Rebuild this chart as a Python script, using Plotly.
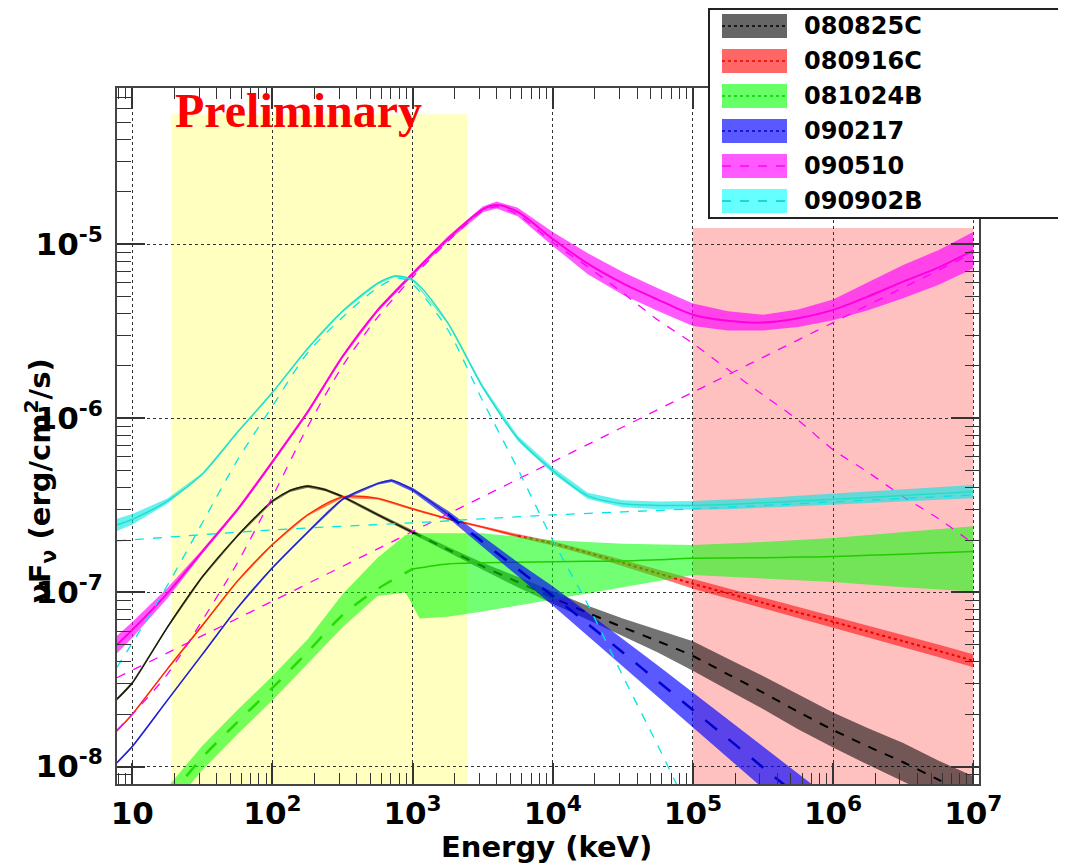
import plotly.graph_objects as go

# ---------------- data (log10 E [keV], log10 nuFnu [erg/cm2/s]) ----------------
GRB_NAMES = ["080825C", "080916C", "081024B", "090217", "090510", "090902B"]

LOGE_STD = [0.89, 1.0, 1.25, 1.5, 1.75, 2.0, 2.25, 2.5, 2.75, 3.0, 3.25, 3.5, 3.75,
            4.0, 4.25, 4.5, 4.75, 5.0, 5.25, 5.5, 5.75, 6.0, 6.25, 6.5, 6.75, 7.0]

# 080825C (black)
LOGE_080825C = [0.89, 1.0, 1.25, 1.5, 1.75, 2.0, 2.125, 2.25, 2.375, 2.5, 2.75, 3.0, 3.25, 3.5,
                3.75, 4.0, 4.25, 4.5, 4.75, 5.0, 5.25, 5.5, 5.75, 6.0, 6.25, 6.5, 6.75, 7.0]
F_080825C = [-7.613, -7.52, -7.20, -6.91, -6.675, -6.475, -6.415, -6.39, -6.41, -6.45, -6.553,
             -6.655, -6.753, -6.85, -6.94, -7.03, -7.117, -7.20, -7.28, -7.365, -7.47, -7.575,
             -7.685, -7.79, -7.885, -7.975, -8.075, -8.17]
W_080825C = [0.008, 0.008, 0.008, 0.008, 0.008, 0.008, 0.008, 0.008, 0.008, 0.008, 0.01, 0.012,
             0.015, 0.02, 0.03, 0.035, 0.04, 0.05, 0.065, 0.085, 0.09, 0.095, 0.1, 0.1, 0.105,
             0.11, 0.11, 0.115]

# 080916C (red)
F_080916C = [-7.795, -7.70, -7.44, -7.19, -6.935, -6.725, -6.555, -6.452, -6.46, -6.52, -6.577,
             -6.625, -6.675, -6.718, -6.772, -6.83, -6.89, -6.95, -7.005, -7.06, -7.115, -7.168,
             -7.225, -7.28, -7.335, -7.392]
W_080916C = [0.006, 0.006, 0.006, 0.006, 0.006, 0.006, 0.006, 0.006, 0.006, 0.006, 0.006, 0.006,
             0.01, 0.012, 0.015, 0.018, 0.022, 0.028, 0.029, 0.03, 0.032, 0.034, 0.035, 0.036,
             0.036, 0.037]

# 081024B (green)
LOGE_081024B = [1.25, 1.5, 1.75, 2.0, 2.25, 2.5, 2.75, 3.0, 3.25, 3.5, 3.75, 4.0, 4.25, 4.5,
                4.75, 5.0, 5.25, 5.5, 5.75, 6.0, 6.25, 6.5, 6.75, 7.0]
F_081024B = [-8.19, -7.947, -7.745, -7.548, -7.343, -7.13, -6.98, -6.865, -6.836, -6.83, -6.826,
             -6.823, -6.821, -6.819, -6.812, -6.804, -6.802, -6.80, -6.797, -6.794, -6.787,
             -6.78, -6.772, -6.765]
LOGE_081024B_BAND = [1.25, 1.5, 1.75, 2.0, 2.25, 2.5, 2.75, 2.95, 3.05, 3.25, 3.5, 4.0, 4.5,
                     5.0, 5.5, 6.0, 6.5, 7.0]
UP_081024B = [-8.12, -7.88, -7.675, -7.48, -7.27, -7.01, -6.80, -6.67, -6.66, -6.66, -6.66,
              -6.70, -6.72, -6.727, -6.71, -6.687, -6.655, -6.62]
LO_081024B = [-8.26, -8.02, -7.815, -7.62, -7.41, -7.20, -7.02, -7.00, -7.15, -7.14, -7.11,
              -7.04, -6.97, -6.90, -6.92, -6.94, -6.97, -6.995]

# 090217 (blue)
LOGE_090217 = [0.89, 1.0, 1.25, 1.5, 1.75, 2.0, 2.25, 2.5, 2.75, 2.85, 3.0, 3.25, 3.5, 3.75,
               4.0, 4.25, 4.5, 4.75, 5.0, 5.25, 5.5, 5.75, 6.0]
F_090217 = [-7.978, -7.885, -7.62, -7.356, -7.089, -6.858, -6.655, -6.465, -6.375, -6.357,
            -6.41, -6.55, -6.71, -6.866, -7.02, -7.18, -7.345, -7.51, -7.675, -7.84, -8.005,
            -8.17, -8.335]
W_090217 = [0.006, 0.006, 0.006, 0.006, 0.006, 0.006, 0.006, 0.006, 0.006, 0.008, 0.012, 0.02,
            0.03, 0.04, 0.055, 0.065, 0.075, 0.09, 0.10, 0.11, 0.12, 0.13, 0.14]

# 090510 (magenta): total, Band component, power-law component
LOGE_090510 = [0.89, 1.0, 1.25, 1.5, 1.75, 2.0, 2.25, 2.5, 2.75, 3.0, 3.25, 3.5, 3.6, 3.75,
               4.0, 4.25, 4.5, 4.75, 5.0, 5.25, 5.5, 5.75, 6.0, 6.25, 6.5, 6.75, 7.0]
F_090510 = [-7.30, -7.215, -7.005, -6.765, -6.525, -6.25, -5.965, -5.645, -5.38, -5.17, -4.97,
            -4.80, -4.775, -4.815, -4.97, -5.112, -5.225, -5.318, -5.405, -5.44, -5.45, -5.425,
            -5.377, -5.30, -5.215, -5.135, -5.035]
W_090510 = [0.05, 0.045, 0.03, 0.012, 0.01, 0.01, 0.01, 0.01, 0.01, 0.012, 0.014, 0.016, 0.02,
            0.025, 0.04, 0.06, 0.065, 0.065, 0.065, 0.055, 0.045, 0.05, 0.06, 0.08, 0.095,
            0.10, 0.105]
BAND_090510 = [-7.79, -7.70, -7.47, -7.16, -6.83, -6.45, -6.05, -5.70, -5.42, -5.19, -4.985,
               -4.81, -4.785, -4.83, -4.99, -5.13, -5.28, -5.435, -5.57, -5.72, -5.865, -6.01,
               -6.18, -6.31, -6.45, -6.575, -6.72]
LOGE_090510_PL = [0.89, 2.0, 3.0, 4.0, 5.0, 6.0, 7.0]
PL_090510 = [-7.49, -7.05, -6.65, -6.25, -5.85, -5.45, -5.05]

# 090902B (cyan): total, Band component, power-law component
LOGE_090902B = [0.89, 1.0, 1.25, 1.5, 1.75, 2.0, 2.25, 2.5, 2.75, 2.875, 3.0, 3.25, 3.5, 3.75,
                4.0, 4.25, 4.5, 4.75, 5.0, 5.25, 5.5, 5.75, 6.0, 6.25, 6.5, 6.75, 7.0]
F_090902B = [-6.612, -6.58, -6.475, -6.32, -6.08, -5.852, -5.60, -5.385, -5.225, -5.183, -5.205,
             -5.45, -5.82, -6.115, -6.30, -6.445, -6.49, -6.50, -6.50, -6.495, -6.485, -6.475,
             -6.465, -6.455, -6.443, -6.432, -6.421]
W_090902B = [0.035, 0.03, 0.015, 0.006, 0.006, 0.006, 0.006, 0.006, 0.006, 0.006, 0.006, 0.006,
             0.012, 0.015, 0.017, 0.018, 0.02, 0.022, 0.025, 0.027, 0.028, 0.03, 0.032, 0.034,
             0.035, 0.037, 0.038]
LOGE_090902B_BAND = [0.89, 1.0, 1.25, 1.5, 1.75, 2.0, 2.25, 2.5, 2.75, 2.9, 3.0, 3.25, 3.5,
                     3.75, 4.0, 4.25, 4.5, 4.75, 4.9]
BAND_090902B = [-7.43, -7.29, -6.96, -6.60, -6.24, -5.93, -5.625, -5.42, -5.25, -5.195, -5.23,
                -5.49, -5.90, -6.29, -6.70, -7.07, -7.48, -7.88, -8.13]
LOGE_090902B_PL = [0.89, 2.0, 3.0, 4.0, 5.0, 6.0, 7.0]
PL_090902B = [-6.704, -6.641, -6.60, -6.555, -6.52, -6.48, -6.44]

# Instrument energy ranges (keV) and box tops (erg/cm2/s)
GBM_RANGE = [19.0, 2450.0]
GBM_TOP = 5.58e-5
LAT_RANGE = [1.0e5, 1.0e7]
LAT_TOP = 1.24e-5

X_TICKS = [10, 1e2, 1e3, 1e4, 1e5, 1e6, 1e7]
X_TICKTEXT = ["10", "10<sup>2</sup>", "10<sup>3</sup>", "10<sup>4</sup>", "10<sup>5</sup>",
              "10<sup>6</sup>", "10<sup>7</sup>"]
Y_TICKS = [1e-8, 1e-7, 1e-6, 1e-5]
Y_TICKTEXT = ["10<sup>-8</sup>", "10<sup>-7</sup>", "10<sup>-6</sup>", "10<sup>-5</sup>"]

# ---------------- helpers ----------------
def p10(vals):
    return [10 ** v for v in vals]


fig = go.Figure()


def add_band(le, up, lo, fillcolor):
    fig.add_trace(go.Scatter(
        x=p10(le) + p10(le[::-1]), y=p10(up) + p10(lo[::-1]),
        fill="toself", fillcolor=fillcolor, line=dict(width=0), mode="lines",
        hoverinfo="skip", showlegend=False))


def add_line(le, f, color, width, dash="solid"):
    fig.add_trace(go.Scatter(
        x=p10(le), y=p10(f), mode="lines",
        line=dict(color=color, width=width, dash=dash, shape="spline", smoothing=0.8),
        hoverinfo="skip", showlegend=False))


def split(le, f, at):
    a = [(e, v) for e, v in zip(le, f) if e <= at]
    b = [(e, v) for e, v in zip(le, f) if e >= at]
    return ([p[0] for p in a], [p[1] for p in a]), ([p[0] for p in b], [p[1] for p in b])


def band_from(le, f, w):
    return [v + d for v, d in zip(f, w)], [v - d for v, d in zip(f, w)]


# 080825C black
u, l = band_from(LOGE_080825C, F_080825C, W_080825C)
add_band(LOGE_080825C, u, l, "rgba(0,0,0,0.55)")
s1, s2 = split(LOGE_080825C, F_080825C, 3.0)
add_line(*s1, "#1a1a00", 1.4)
add_line(*s2, "black", 2, "dash")

# 080916C red
u, l = band_from(LOGE_STD, F_080916C, W_080916C)
add_band(LOGE_STD, u, l, "rgba(255,0,0,0.55)")
s1, s2 = split(LOGE_STD, F_080916C, 3.75)
add_line(*s1, "#ff2a00", 1.4)
add_line(*s2, "#ee0000", 2, "dot")

# 081024B green
add_band(LOGE_081024B_BAND, UP_081024B, LO_081024B, "rgba(0,255,0,0.55)")
s1, s2 = split(LOGE_081024B, F_081024B, 3.0)
add_line(*s1, "#22dd00", 2.5, "longdash")
add_line(*s2, "#22cc00", 1.5)

# 090217 blue
u, l = band_from(LOGE_090217, F_090217, W_090217)
add_band(LOGE_090217, u, l, "rgba(0,0,255,0.65)")
s1, s2 = split(LOGE_090217, F_090217, 3.25)
add_line(*s1, "#2222cc", 1.4)
add_line(*s2, "#0000cc", 2.5, "longdash")

# 090510 magenta
u, l = band_from(LOGE_090510, F_090510, W_090510)
add_band(LOGE_090510, u, l, "rgba(255,0,255,0.65)")
add_line(LOGE_090510, BAND_090510, "#ff00ff", 1.3, "dash")
add_line(LOGE_090510_PL, PL_090510, "#ff00ff", 1.3, "dash")
add_line(LOGE_090510, F_090510, "#ff00dd", 2)

# 090902B cyan
u, l = band_from(LOGE_090902B, F_090902B, W_090902B)
add_band(LOGE_090902B, u, l, "rgba(0,230,230,0.6)")
add_line(LOGE_090902B_BAND, BAND_090902B, "#00e5e5", 1.3, "dash")
add_line(LOGE_090902B_PL, PL_090902B, "#00e5e5", 1.3, "dash")
add_line(LOGE_090902B, F_090902B, "#22e0c8", 1.5)

# ---------------- layout ----------------
OFF = 8                      # page offset of the figure (body margin)
PAGE_W, PAGE_H = 1066, 867
PL_, PR_, PT_, PB_ = 117, 979, 88, 784   # plot frame in page pixels
W, H = PAGE_W - OFF, PAGE_H - OFF
L, R, T, B = PL_ - OFF, PAGE_W - PR_, PT_ - OFF, PAGE_H - PB_
PW, PH = PR_ - PL_, PB_ - PT_


def px(x):
    return (x - PL_) / PW


def py(y):
    return (PB_ - y) / PH


shapes = [
    dict(type="rect", xref="x", yref="y", x0=GBM_RANGE[0], x1=GBM_RANGE[1], y0=7.0e-9,
         y1=GBM_TOP, fillcolor="#ffffc0", line=dict(width=0), layer="below"),
    dict(type="rect", xref="x", yref="y", x0=LAT_RANGE[0], x1=LAT_RANGE[1], y0=7.0e-9,
         y1=LAT_TOP, fillcolor="#ffc0c0", line=dict(width=0), layer="below"),
]

annotations = []
# legend box
shapes.append(dict(type="rect", xref="paper", yref="paper", x0=px(709), x1=px(1075),
                   y0=py(218), y1=py(9), fillcolor="white",
                   line=dict(color="#222222", width=2), layer="above"))
leg_fill = ["rgba(0,0,0,0.6)", "rgba(255,0,0,0.6)", "rgba(0,255,0,0.6)",
            "rgba(0,0,255,0.65)", "rgba(255,0,255,0.65)", "rgba(0,255,255,0.6)"]
leg_line = ["black", "#ee0000", "#00cc00", "#0000cc", "#ff00ff", "#00cccc"]
leg_dash = ["dot", "dot", "dot", "dot", "dash", "dash"]
for i, name in enumerate(GRB_NAMES):
    yc = 26 + 35 * i
    shapes.append(dict(type="rect", xref="paper", yref="paper", x0=px(722), x1=px(787),
                       y0=py(yc + 12), y1=py(yc - 12), fillcolor=leg_fill[i],
                       line=dict(width=0), layer="above"))
    shapes.append(dict(type="line", xref="paper", yref="paper", x0=px(722), x1=px(787),
                       y0=py(yc), y1=py(yc), line=dict(color=leg_line[i], width=1.5,
                                                       dash=leg_dash[i]), layer="above"))
    annotations.append(dict(xref="paper", yref="paper", x=px(802), y=py(yc), text="<b>%s</b>" % name,
                            showarrow=False, xanchor="left", yanchor="middle",
                            font=dict(family="DejaVu Sans", size=24, color="black")))

annotations.append(dict(xref="paper", yref="paper", x=px(298), y=py(110), text="<b>Preliminary</b>",
                        showarrow=False, xanchor="center", yanchor="middle",
                        font=dict(family="Liberation Serif", size=48, color="#ff0000")))
annotations.append(dict(xref="paper", yref="paper", x=px(546), y=py(847), text="<b>Energy (keV)</b>",
                        showarrow=False, xanchor="center", yanchor="middle",
                        font=dict(family="DejaVu Sans", size=29, color="black")))
annotations.append(dict(xref="paper", yref="paper", x=px(40), y=py(481),
                        text="<b>\u03bdF<sub>\u03bd</sub> (erg/cm<sup>2</sup>/s)</b>",
                        showarrow=False, xanchor="center", yanchor="middle", textangle=-90,
                        font=dict(family="DejaVu Sans", size=29, color="black")))

x_minor = [k * 10 ** n for n in range(0, 8) for k in range(2, 10)]
y_minor = [k * 10 ** n for n in range(-9, -3) for k in range(2, 10)]

fig.update_layout(
    width=W, height=H, margin=dict(l=L, r=R, t=T, b=B, autoexpand=False),
    paper_bgcolor="white", plot_bgcolor="white", showlegend=False,
    shapes=shapes, annotations=annotations,
    xaxis=dict(type="log", range=[0.891, 7.041], tickmode="array", tickvals=X_TICKS,
               ticktext=["<b>%s</b>" % t for t in X_TICKTEXT],
               tickfont=dict(family="DejaVu Sans", size=31, color="black"),
               ticks="inside", ticklen=21, tickwidth=1.5, tickcolor="#333333",
               showline=True, linecolor="#444444", linewidth=2, mirror="ticks",
               showgrid=True, gridcolor="#333333", griddash="dot", gridwidth=1.3,
               zeroline=False, ticklabelstandoff=1, automargin=False,
               minor=dict(tickmode="array", tickvals=x_minor, ticks="inside", ticklen=11,
                          tickwidth=1.3, tickcolor="#333333", showgrid=False)),
    yaxis=dict(type="log", range=[-8.10, -4.103], tickmode="array", tickvals=Y_TICKS,
               ticktext=["<b>%s</b>" % t for t in Y_TICKTEXT],
               tickfont=dict(family="DejaVu Sans", size=31, color="black"),
               ticks="inside", ticklen=28, tickwidth=1.5, tickcolor="#333333",
               showline=True, linecolor="#444444", linewidth=2, mirror="ticks",
               showgrid=True, gridcolor="#333333", griddash="dot", gridwidth=1.3,
               zeroline=False, ticklabelstandoff=6, automargin=False,
               minor=dict(tickmode="array", tickvals=y_minor, ticks="inside", ticklen=14,
                          tickwidth=1.3, tickcolor="#333333", showgrid=False)),
)

fig.write_html("out.html")
